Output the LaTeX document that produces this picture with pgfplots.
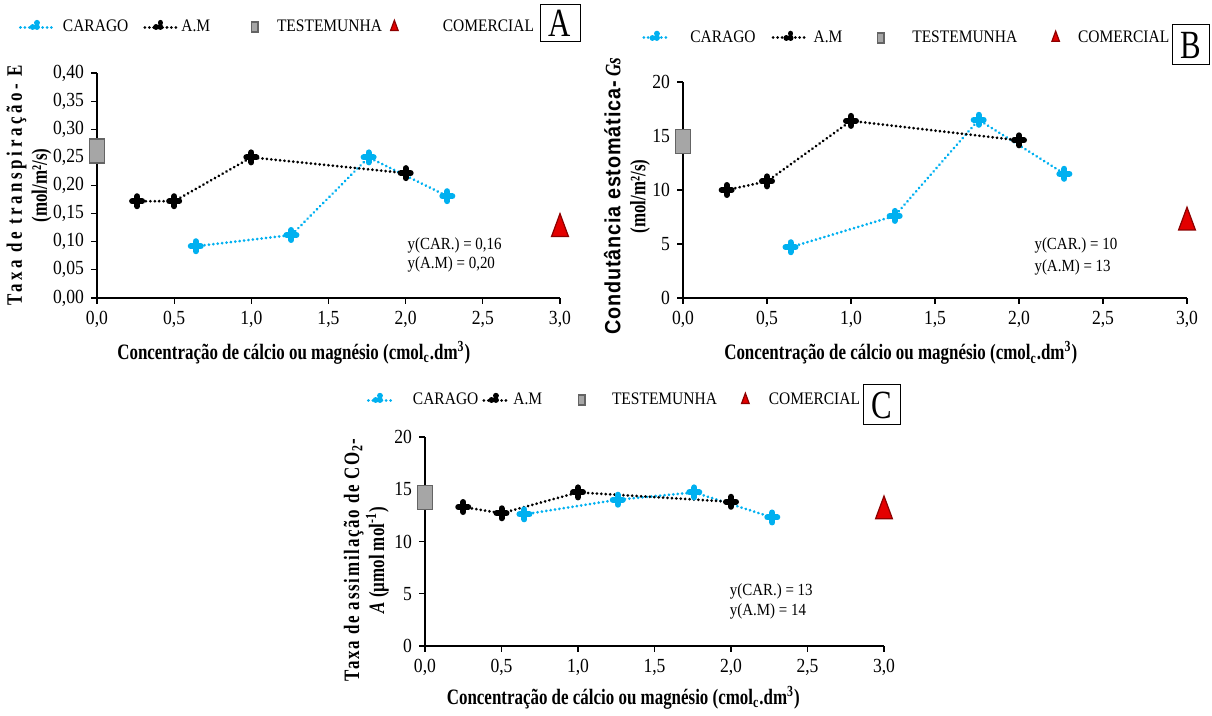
\documentclass[border=0pt]{standalone}
\usepackage{fontspec}
\setmainfont{Liberation Serif}[FakeStretch=0.88]
\newfontfamily\labfont{Liberation Serif}[FakeStretch=0.77]
\newfontfamily\sansfam{Liberation Sans}[FakeStretch=0.9]
\usepackage{pgfplots}
\pgfplotsset{compat=1.18}
\definecolor{carago}{RGB}{0,176,240}
\definecolor{testfill}{RGB}{166,166,166}
\definecolor{testdraw}{RGB}{100,100,100}
\definecolor{comfill}{RGB}{228,0,0}
\definecolor{comdraw}{RGB}{140,0,0}
\pgfplotsset{
  panel/.style={
    scale only axis, anchor=south west,
    axis lines=left, axis line style={-, line width=0.6pt},
    xmin=0, xmax=3, ymin=0,
    xtick={0,0.5,1,1.5,2,2.5,3},
    tick style={black, line width=0.6pt}, tick align=outside, major tick length=3pt,
    /pgf/number format/assume math mode=true,
    x tick label style={/pgf/number format/.cd, fixed, fixed zerofill, precision=1, use comma},
    tick label style={font=\fontsize{10}{12}\selectfont},
    label style={font=\labfont\fontsize{11}{12.5}\selectfont\bfseries, align=center},
    clip=false,
    legend columns=4,
    legend style={draw=none, fill=none, font=\fontsize{8.8}{11}\selectfont, anchor=center},
    legend cell align=left,
  },
  linestyle/.style={line width=1.5pt, dash pattern=on 0.01pt off 2.2pt, line cap=round,
    mark=+, mark size=2.5pt, mark options={solid, line width=3pt, line cap=round}},
  carstyle/.style={linestyle, color=carago},
  amstyle/.style={linestyle, color=black},
  teststyle/.style={only marks, mark=square*, mark size=6pt,
    mark options={xscale=0.62, fill=testfill, draw=testdraw, line width=0.8pt}},
  comstyle/.style={only marks, mark=triangle*, mark size=7.6pt,
    mark options={xscale=0.64, fill=comfill, draw=comdraw, line width=0.6pt}},
  legline/.style n args={3}{legend image code/.code={\path (0pt,0pt) (#3,0pt);
    \draw[mark repeat=2,mark phase=2,##1, mark size=2.2pt, mark options={line width=2.8pt}] plot coordinates {(#1,0pt) ({#1+0.5*#2},0pt) ({#1+#2},0pt)};}},
  legsq/.style 2 args={legend image code/.code={\path (0pt,0pt) (#2,0pt);
    \draw[##1, mark size=2.6pt] plot coordinates {(#1,0pt)};}},
  legtri/.style 2 args={legend image code/.code={\path (0pt,0pt) (#2,0pt);
    \draw[##1, mark size=3.4pt] plot coordinates {(#1,0pt)};}},
}
\begin{document}
\begin{tikzpicture}
\useasboundingbox (0,0) rectangle (606pt,-358pt);
% ---------------- A ----------------
\begin{axis}[panel, at={(48.5pt,-149pt)}, width=231.5pt, height=112.5pt,
  ymax=0.40, ytick={0,0.05,0.10,0.15,0.20,0.25,0.30,0.35,0.40},
  y tick label style={/pgf/number format/.cd, fixed, fixed zerofill, precision=2, use comma},
  xlabel={Concentração de cálcio ou magnésio (cmol\textsubscript{c}.dm\textsuperscript{3})},
  xlabel style={at={(axis description cs:0.425,-0.244)}, anchor=center},
  ylabel={\addfontfeatures{LetterSpace=16}Taxa de transpiração- E\\(mol/m²/s)},
  ylabel style={at={(axis description cs:-0.147,0.5)}, anchor=center},
  legend style={at={(0.392,1.204)},
    /tikz/column 2/.style={column sep=5.5pt},
    /tikz/column 4/.style={column sep=8pt},
    /tikz/column 6/.style={column sep=1pt}},
]
\addplot[carstyle, legline={0pt}{16.5pt}{18.5pt}] coordinates {(0.64,0.092) (1.26,0.112) (1.76,0.250) (2.27,0.181)};
\addlegendentry{CARAGO}
\addplot[amstyle, legline={0pt}{15.5pt}{15.5pt}] coordinates {(0.26,0.172) (0.5,0.172) (1.0,0.250) (2.0,0.222)};
\addlegendentry{A.M}
\addplot[teststyle, legsq={12pt}{21pt}] coordinates {(0,0.261)};
\addlegendentry{TESTEMUNHA}
\addplot[comstyle, legtri={3pt}{25pt}] coordinates {(3,0.123)};
\addlegendentry{COMERCIAL}
\node[anchor=west, inner sep=0pt, font=\fontsize{8.5}{9}\selectfont] at (axis cs:2.01,0.094) {y(CAR.) = 0,16};
\node[anchor=west, inner sep=0pt, font=\fontsize{8.5}{9}\selectfont] at (axis cs:2.01,0.060) {y(A.M) = 0,20};
\end{axis}
% ---------------- B ----------------
\begin{axis}[panel, at={(341.5pt,-149pt)}, width=252pt, height=108pt,
  ymax=20, ytick={0,5,10,15,20},
  xlabel={Concentração de cálcio ou magnésio (cmol\textsubscript{c}.dm\textsuperscript{3})},
  xlabel style={at={(axis description cs:0.432,-0.255)}, anchor=center},
  ylabel={{\sansfam\bfseries\addfontfeatures{LetterSpace=4}Condutância estomática-} \textit{Gs}\\(mol/m²/s)},
  ylabel style={at={(axis description cs:-0.111,0.47)}, anchor=center},
  legend style={at={(0.446,1.204)},
    /tikz/column 2/.style={column sep=6pt},
    /tikz/column 4/.style={column sep=8pt},
    /tikz/column 6/.style={column sep=10pt}},
]
\addplot[carstyle, legline={0pt}{13pt}{20.5pt}] coordinates {(0.64,4.7) (1.26,7.6) (1.76,16.5) (2.27,11.5)};
\addlegendentry{CARAGO}
\addplot[amstyle, legline={0pt}{17.5pt}{17.5pt}] coordinates {(0.26,10.0) (0.5,10.8) (1.0,16.4) (2.0,14.6)};
\addlegendentry{A.M}
\addplot[teststyle, legsq={9pt}{22.5pt}] coordinates {(0,14.5)};
\addlegendentry{TESTEMUNHA}
\addplot[comstyle, legtri={7pt}{16pt}] coordinates {(3,7.0)};
\addlegendentry{COMERCIAL}
\node[anchor=west, inner sep=0pt, font=\fontsize{8.5}{9}\selectfont] at (axis cs:2.09,4.9) {y(CAR.) = 10};
\node[anchor=west, inner sep=0pt, font=\fontsize{8.5}{9}\selectfont] at (axis cs:2.09,2.8) {y(A.M) = 13};
\end{axis}
% ---------------- C ----------------
\begin{axis}[panel, at={(212.5pt,-323pt)}, width=229.5pt, height=104.5pt,
  ymax=20, ytick={0,5,10,15,20},
  xlabel={Concentração de cálcio ou magnésio (cmol\textsubscript{c}.dm\textsuperscript{3})},
  xlabel style={at={(axis description cs:0.432,-0.249)}, anchor=center},
  ylabel={\addfontfeatures{LetterSpace=8}Taxa de assimilação de CO\textsubscript{2}-\\\textit{A} (µmol mol\textsuperscript{-1})},
  ylabel style={at={(axis description cs:-0.128,0.41)}, anchor=center},
  legend style={at={(0.415,1.177)},
    /tikz/column 2/.style={column sep=0pt},
    /tikz/column 4/.style={column sep=8pt},
    /tikz/column 6/.style={column sep=8pt}},
]
\addplot[carstyle, legline={0pt}{11.5pt}{19.5pt}] coordinates {(0.65,12.6) (1.26,14.0) (1.76,14.7) (2.27,12.3)};
\addlegendentry{CARAGO}
\addplot[amstyle, legline={0pt}{12pt}{12pt}] coordinates {(0.25,13.3) (0.5,12.7) (1.0,14.7) (2.0,13.8)};
\addlegendentry{A.M}
\addplot[teststyle, legsq={9.5pt}{22.5pt}] coordinates {(0,14.2)};
\addlegendentry{TESTEMUNHA}
\addplot[comstyle, legtri={4pt}{13.5pt}] coordinates {(3,12.9)};
\addlegendentry{COMERCIAL}
\node[anchor=west, inner sep=0pt, font=\fontsize{8.5}{9}\selectfont] at (axis cs:1.99,5.2) {y(CAR.) = 13};
\node[anchor=west, inner sep=0pt, font=\fontsize{8.5}{9}\selectfont] at (axis cs:1.99,3.3) {y(A.M) = 14};
\end{axis}
% letter boxes
\node[draw, line width=0.5pt, inner sep=0pt, minimum width=20pt, minimum height=18.5pt, font=\labfont\fontsize{20}{20}\selectfont] at (280pt,-11.5pt) {A};
\node[draw, line width=0.5pt, inner sep=0pt, minimum width=18.5pt, minimum height=20pt, font=\labfont\fontsize{20}{20}\selectfont] at (595.5pt,-22.5pt) {B};
\node[draw, line width=0.5pt, inner sep=0pt, minimum width=18.5pt, minimum height=20pt, font=\labfont\fontsize{20}{20}\selectfont] at (440.75pt,-202.5pt) {C};
\end{tikzpicture}
\end{document}
